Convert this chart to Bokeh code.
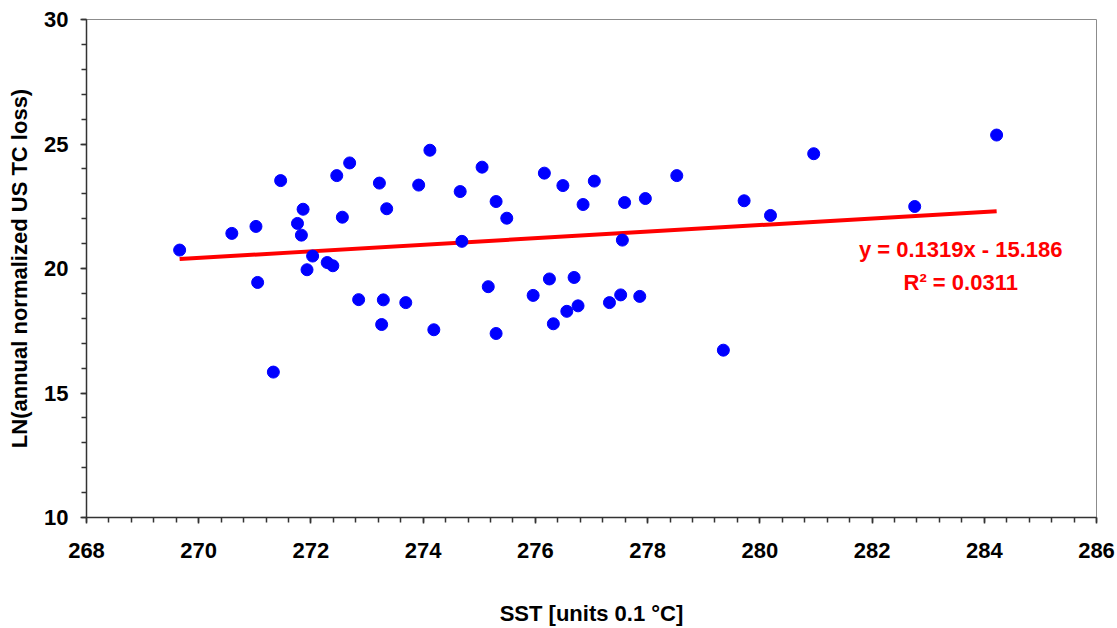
from bokeh.plotting import figure
from bokeh.models import SingleIntervalTicker, Label, Range1d
from bokeh.embed import file_html
from bokeh.resources import INLINE

# ---- data ----
sst = [269.66, 270.59, 271.02, 271.05, 271.33, 271.46, 271.76, 271.86, 271.83, 271.93,
       272.03, 272.29, 272.39, 272.46, 272.56, 272.69, 272.85, 273.22, 273.29, 273.26,
       273.35, 273.69, 273.92, 274.12, 274.19, 274.66, 275.05, 274.69, 275.30, 275.49,
       275.16, 275.30, 276.16, 276.49, 276.85, 277.05, 276.25, 276.69, 275.96, 276.32,
       276.56, 276.76, 277.32, 277.52, 277.86, 277.55, 277.59, 277.96, 278.52, 279.35,
       279.72, 280.19, 280.96, 282.76, 284.22]
loss = [20.74, 21.41, 21.69, 19.44, 15.84, 23.53, 21.81, 22.38, 21.34, 19.95,
        20.50, 20.24, 20.11, 23.73, 22.06, 24.24, 18.75, 23.43, 18.74, 17.75,
        22.40, 18.63, 23.35, 24.75, 17.54, 23.09, 24.07, 21.09, 22.69, 22.02,
        19.27, 17.39, 23.83, 23.33, 22.57, 23.51, 19.58, 19.64, 18.92, 17.78,
        18.28, 18.50, 18.63, 18.94, 18.88, 21.14, 22.65, 22.81, 23.73, 16.72,
        22.72, 22.13, 24.61, 22.49, 25.36]
slope = 0.1319
intercept = -15.186
r_squared = 0.0311

x_title = "SST [units 0.1 \u00b0C]"
y_title = "LN(annual normalized US TC loss)"

FONT = "Liberation Sans"
AX = "#333333"

p = figure(width=1117, height=628,
           x_range=Range1d(268, 286), y_range=Range1d(10, 30),
           output_backend="svg", toolbar_location=None,
           min_border_left=86, min_border_right=21,
           min_border_top=19, min_border_bottom=110)
p.xgrid.visible = False
p.ygrid.visible = False
p.outline_line_color = "#8c8c8c"
p.outline_line_width = 1
p.background_fill_color = "white"
p.border_fill_color = "white"

p.xaxis.ticker = SingleIntervalTicker(interval=2, num_minor_ticks=5)
p.yaxis.ticker = SingleIntervalTicker(interval=5, num_minor_ticks=5)

for ax in (p.xaxis[0], p.yaxis[0]):
    ax.axis_line_color = AX
    ax.axis_line_width = 1.5
    ax.major_tick_line_color = AX
    ax.minor_tick_line_color = AX
    ax.major_tick_line_width = 1.5
    ax.minor_tick_line_width = 1.5
    ax.major_tick_in = 0
    ax.minor_tick_in = 0
    ax.major_tick_out = 6
    ax.minor_tick_out = 5
    ax.major_label_text_font = FONT
    ax.major_label_text_font_style = "bold"
    ax.major_label_text_font_size = "22px"
    ax.major_label_text_color = "black"
    ax.axis_label_text_font = FONT
    ax.axis_label_text_font_style = "bold"
    ax.axis_label_text_font_size = "22px"
    ax.axis_label_text_color = "black"

p.xaxis.axis_label = x_title
p.yaxis.axis_label = y_title
p.xaxis.major_label_standoff = 19
p.yaxis.major_label_standoff = 12
p.xaxis.axis_label_standoff = 40
p.yaxis.axis_label_standoff = 9

# trend line
x_fit = [min(sst), max(sst)]
y_fit = [slope * v + intercept for v in x_fit]
p.line(x_fit, y_fit, line_color="#ff0000", line_width=4)

# points
p.scatter(sst, loss, size=12, fill_color="#0000ff", line_color="#0000ff")

eq1 = Label(x=283.58, y=20.75, text=f"y = {slope}x - {abs(intercept)}",
            text_align="center", text_baseline="alphabetic",
            text_font=FONT, text_font_style="bold", text_font_size="22px",
            text_color="#ff0000")
eq2 = Label(x=283.58, y=19.45, text=f"R\u00b2 = {r_squared}",
            text_align="center", text_baseline="alphabetic",
            text_font=FONT, text_font_style="bold", text_font_size="22px",
            text_color="#ff0000")
p.add_layout(eq1)
p.add_layout(eq2)

open("out.html", "w").write(file_html(p, INLINE))
